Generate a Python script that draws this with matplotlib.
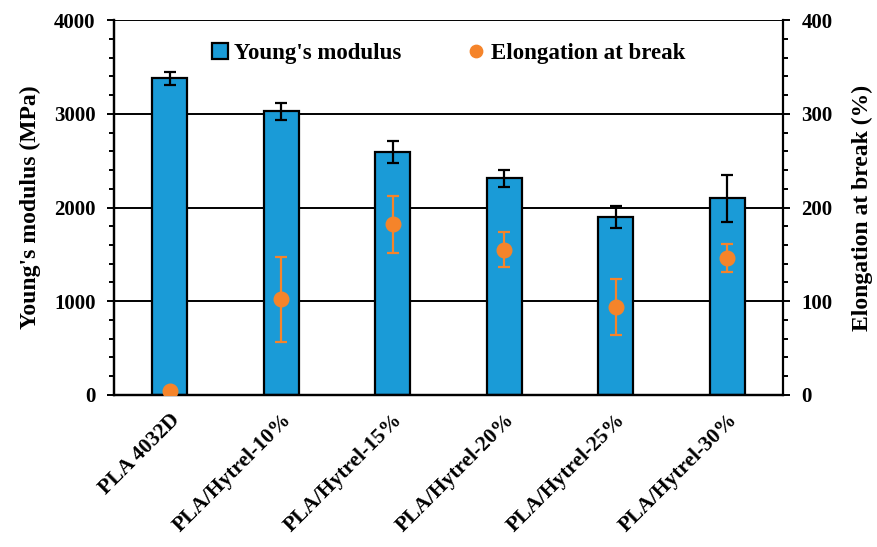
import matplotlib
matplotlib.use("Agg")
import matplotlib.pyplot as plt
from matplotlib.ticker import MultipleLocator

# Tensile properties of PLA and PLA/Hytrel blends
samples = ["PLA 4032D", "PLA/Hytrel-10%", "PLA/Hytrel-15%",
           "PLA/Hytrel-20%", "PLA/Hytrel-25%", "PLA/Hytrel-30%"]
modulus = [3380, 3025, 2590, 2310, 1900, 2100]       # MPa
modulus_err = [70, 95, 115, 90, 120, 250]
elongation = [4, 102, 182, 155, 94, 146]              # %
elongation_err = [0, 45, 30, 19, 30, 15]

C_BAR = "#1a9bd7"
C_DOT = "#f5842a"

plt.rcParams.update({
    "font.family": "Liberation Serif",
    "font.weight": "bold",
    "axes.labelweight": "bold",
    "axes.linewidth": 1.6,
})

fig = plt.figure(figsize=(8.78, 5.47), dpi=100)
ax = fig.add_axes([0.1298, 0.2779, 0.762, 0.6855])
ax2 = ax.twinx()

x = range(len(samples))
bars = ax.bar(x, modulus, width=0.31, color=C_BAR, edgecolor="black",
              linewidth=1.6, label="Young's modulus", zorder=2)
ax.errorbar(x, modulus, yerr=modulus_err, fmt="none", ecolor="black",
            elinewidth=1.6, capsize=4.3, capthick=1.6, zorder=3)

dots = ax2.errorbar(x, elongation, yerr=elongation_err, fmt="o", color=C_DOT,
                    ms=10.5, ecolor=C_DOT, elinewidth=1.6, capsize=4.3,
                    capthick=1.6, label="Elongation at break", zorder=4)

ax.set_xlim(-0.5, len(samples) - 0.5)
ax.set_ylim(0, 4000)
ax2.set_ylim(0, 400)
ax.yaxis.set_major_locator(MultipleLocator(1000))
ax.yaxis.set_minor_locator(MultipleLocator(200))
ax2.yaxis.set_major_locator(MultipleLocator(100))
ax2.yaxis.set_minor_locator(MultipleLocator(20))

ax.grid(axis="y", color="black", linewidth=1.4)
ax.set_axisbelow(True)
for a in (ax, ax2):
    a.spines["top"].set_visible(False)
ax.spines["right"].set_visible(False)

for a in (ax, ax2):
    a.tick_params(axis="y", which="major", length=5.3, width=1.4,
                  labelsize=15, pad=8)
    a.tick_params(axis="y", which="minor", length=3.4, width=1.4)
ax.tick_params(axis="x", length=0, labelsize=15.5, pad=11)

ax.set_xticks(list(x))
ax.set_xticklabels(samples, rotation=45, ha="right", rotation_mode="anchor")

ax.set_ylabel("Young's modulus (MPa)", fontsize=17, labelpad=9)
ax2.set_ylabel("Elongation at break (%)", fontsize=17, labelpad=14)

ax2.legend([bars, dots.lines[0]], ["Young's modulus", "Elongation at break"],
           loc="upper center", bbox_to_anchor=(0.5, 0.995), ncol=2,
           frameon=False, fontsize=16.5, handlelength=0.7, handleheight=0.7,
           handletextpad=0.3, columnspacing=2.9, markerscale=0.85)

fig.savefig("out.png", dpi=100)
